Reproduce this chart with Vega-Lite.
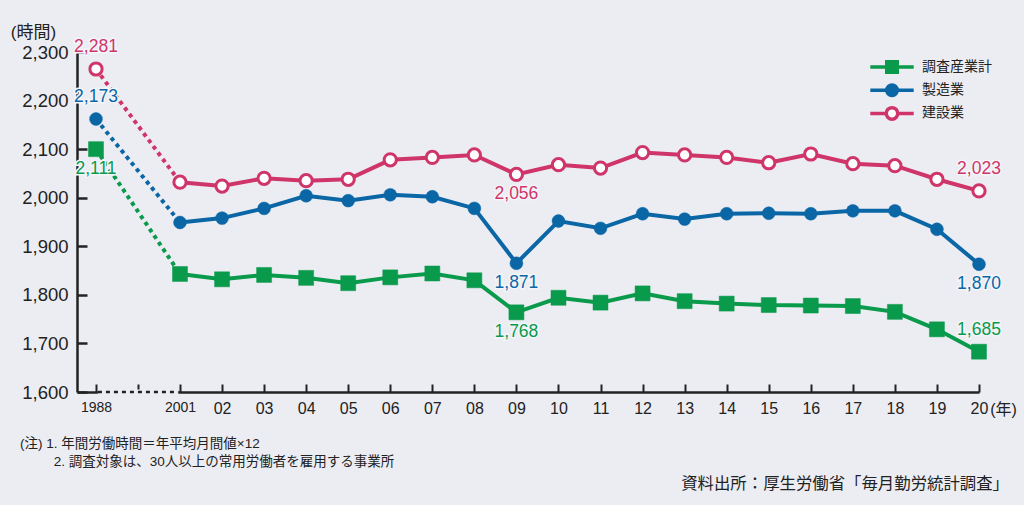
{
  "$schema": "https://vega.github.io/schema/vega-lite/v6.json",
  "width": 903,
  "height": 340,
  "autosize": {"type": "none"},
  "padding": {"left": 77, "top": 52, "right": 44, "bottom": 113},
  "background": "#ecedf3",
  "config": {
    "view": {"stroke": null},
    "font": "Liberation Sans, Noto Sans CJK JP",
    "text": {"font": "Liberation Sans, Noto Sans CJK JP"},
    "legend": {"orient": "none", "legendX": 806, "legendY": 6, "padding": 0, "labelFontSize": 14, "labelColor": "#222222", "labelFont": "Liberation Sans, Noto Sans CJK JP", "rowPadding": -2.8, "symbolSize": 196, "symbolStrokeWidth": 3.5, "labelOffset": 21}
  },
  "title": {
    "text": ["(注) 1. 年間労働時間＝年平均月間値×12", "\u200b\u00a0\u00a0\u00a0\u00a0\u00a0\u00a0\u00a0\u00a0\u00a02. 調査対象は、30人以上の常用労働者を雇用する事業所"],
    "orient": "bottom",
    "anchor": "start",
    "frame": "group",
    "dx": -57,
    "offset": -56,
    "fontSize": 13.5,
    "fontWeight": "normal",
    "lineHeight": 18.5,
    "color": "#222222",
    "font": "Liberation Sans, Noto Sans CJK JP"
  },
  "data": {"values": [
    {"year": 1988, "series": "調査産業計", "hours": 2100, "label": "2,111", "side": "below"},
    {"year": 1988, "series": "製造業", "hours": 2162, "label": "2,173", "side": "above"},
    {"year": 1988, "series": "建設業", "hours": 2265, "label": "2,281", "side": "above"},
    {"year": 2001, "series": "調査産業計", "hours": 1843},
    {"year": 2001, "series": "製造業", "hours": 1949},
    {"year": 2001, "series": "建設業", "hours": 2032},
    {"year": 2002, "series": "調査産業計", "hours": 1832},
    {"year": 2002, "series": "製造業", "hours": 1958},
    {"year": 2002, "series": "建設業", "hours": 2024},
    {"year": 2003, "series": "調査産業計", "hours": 1841},
    {"year": 2003, "series": "製造業", "hours": 1978},
    {"year": 2003, "series": "建設業", "hours": 2040},
    {"year": 2004, "series": "調査産業計", "hours": 1835},
    {"year": 2004, "series": "製造業", "hours": 2004},
    {"year": 2004, "series": "建設業", "hours": 2035},
    {"year": 2005, "series": "調査産業計", "hours": 1824},
    {"year": 2005, "series": "製造業", "hours": 1994},
    {"year": 2005, "series": "建設業", "hours": 2038},
    {"year": 2006, "series": "調査産業計", "hours": 1836},
    {"year": 2006, "series": "製造業", "hours": 2006},
    {"year": 2006, "series": "建設業", "hours": 2078},
    {"year": 2007, "series": "調査産業計", "hours": 1844},
    {"year": 2007, "series": "製造業", "hours": 2002},
    {"year": 2007, "series": "建設業", "hours": 2083},
    {"year": 2008, "series": "調査産業計", "hours": 1830},
    {"year": 2008, "series": "製造業", "hours": 1978},
    {"year": 2008, "series": "建設業", "hours": 2088},
    {"year": 2009, "series": "調査産業計", "hours": 1764, "label": "1,768", "side": "below"},
    {"year": 2009, "series": "製造業", "hours": 1865, "label": "1,871", "side": "below"},
    {"year": 2009, "series": "建設業", "hours": 2048, "label": "2,056", "side": "below"},
    {"year": 2010, "series": "調査産業計", "hours": 1794},
    {"year": 2010, "series": "製造業", "hours": 1952},
    {"year": 2010, "series": "建設業", "hours": 2068},
    {"year": 2011, "series": "調査産業計", "hours": 1784},
    {"year": 2011, "series": "製造業", "hours": 1937},
    {"year": 2011, "series": "建設業", "hours": 2061},
    {"year": 2012, "series": "調査産業計", "hours": 1803},
    {"year": 2012, "series": "製造業", "hours": 1967},
    {"year": 2012, "series": "建設業", "hours": 2093},
    {"year": 2013, "series": "調査産業計", "hours": 1787},
    {"year": 2013, "series": "製造業", "hours": 1956},
    {"year": 2013, "series": "建設業", "hours": 2088},
    {"year": 2014, "series": "調査産業計", "hours": 1782},
    {"year": 2014, "series": "製造業", "hours": 1967},
    {"year": 2014, "series": "建設業", "hours": 2083},
    {"year": 2015, "series": "調査産業計", "hours": 1779},
    {"year": 2015, "series": "製造業", "hours": 1968},
    {"year": 2015, "series": "建設業", "hours": 2072},
    {"year": 2016, "series": "調査産業計", "hours": 1778},
    {"year": 2016, "series": "製造業", "hours": 1967},
    {"year": 2016, "series": "建設業", "hours": 2090},
    {"year": 2017, "series": "調査産業計", "hours": 1777},
    {"year": 2017, "series": "製造業", "hours": 1973},
    {"year": 2017, "series": "建設業", "hours": 2070},
    {"year": 2018, "series": "調査産業計", "hours": 1765},
    {"year": 2018, "series": "製造業", "hours": 1973},
    {"year": 2018, "series": "建設業", "hours": 2066},
    {"year": 2019, "series": "調査産業計", "hours": 1729},
    {"year": 2019, "series": "製造業", "hours": 1935},
    {"year": 2019, "series": "建設業", "hours": 2038},
    {"year": 2020, "series": "調査産業計", "hours": 1683, "label": "1,685", "side": "above"},
    {"year": 2020, "series": "製造業", "hours": 1863, "label": "1,870", "side": "below"},
    {"year": 2020, "series": "建設業", "hours": 2014, "label": "2,023", "side": "above"}
  ]},
  "encoding": {
    "x": {
      "field": "year",
      "type": "quantitative",
      "scale": {"type": "linear", "domain": [1987, 1988, 2001, 2020], "range": [0, 19, 103, 902], "nice": false, "zero": false},
      "axis": {
        "values": [1988, 1994.5, 2001, 2002, 2003, 2004, 2005, 2006, 2007, 2008, 2009, 2010, 2011, 2012, 2013, 2014, 2015, 2016, 2017, 2018, 2019, 2020],
        "labelExpr": "datum.value == 1988 || datum.value == 2001 ? '' + datum.value : (datum.value > 2001 ? substring('' + datum.value, 2, 4) : '')",
        "labelFontSize": {"condition": {"test": "datum.value == 1988 || datum.value == 2001", "value": 14}, "value": 16},
        "labelFlush": false,
        "labelOverlap": false,
        "labelBound": false,
        "labelColor": "#222222",
        "labelPadding": 16,
        "labelFont": "Liberation Sans, Noto Sans CJK JP",
        "tickSize": -8,
        "tickWidth": 2,
        "tickColor": "#222222",
        "domainColor": "#222222",
        "domainWidth": 2.5,
        "grid": false,
        "title": "(年)",
        "titleFont": "Liberation Sans, Noto Sans CJK JP",
        "titleFontSize": 16,
        "titleFontWeight": "normal",
        "titleColor": "#222222",
        "titleX": 926,
        "titleY": 17,
        "titleAlign": "center",
        "titleBaseline": "middle"
      }
    },
    "y": {
      "field": "hours",
      "type": "quantitative",
      "scale": {"domain": [1600, 2300], "nice": false, "zero": false},
      "axis": {
        "values": [1600, 1700, 1800, 1900, 2000, 2100, 2200, 2300],
        "format": ",d",
        "labelFontSize": 18.5,
        "labelColor": "#222222",
        "labelPadding": 19,
        "labelFont": "Liberation Sans, Noto Sans CJK JP",
        "tickSize": -10,
        "tickWidth": 2.5,
        "tickColor": "#222222",
        "domainColor": "#222222",
        "domainWidth": 2.5,
        "grid": false,
        "title": "(時間)",
        "titleFont": "Liberation Sans, Noto Sans CJK JP",
        "titleFontSize": 17,
        "titleFontWeight": "normal",
        "titleColor": "#222222",
        "titleAngle": 0,
        "titleX": -44,
        "titleY": -20,
        "titleAlign": "center",
        "titleBaseline": "middle"
      }
    }
  },
  "layer": [
    {
      "data": {"values": [{"from": 1988.3, "to": 2000.75, "base": 1600}]},
      "mark": {"type": "rule", "stroke": "#ecedf3", "strokeWidth": 5},
      "encoding": {"x": {"field": "from", "type": "quantitative"}, "x2": {"field": "to"}, "y": {"field": "base", "type": "quantitative"}}
    },
    {
      "data": {"values": [{"from": 1988.3, "to": 2000.75, "base": 1600}]},
      "mark": {"type": "rule", "stroke": "#222222", "strokeWidth": 2.5, "strokeDash": [4, 4]},
      "encoding": {"x": {"field": "from", "type": "quantitative"}, "x2": {"field": "to"}, "y": {"field": "base", "type": "quantitative"}}
    },
    {
      "transform": [{"filter": "datum.year <= 2001"}],
      "mark": {"type": "line", "strokeWidth": 4, "strokeDash": [4, 4], "strokeCap": "butt"},
      "encoding": {
        "color": {"field": "series", "type": "nominal", "scale": {"domain": ["建設業", "製造業", "調査産業計"], "range": ["#cf3569", "#0b66a6", "#0a9a4c"]}, "legend": null}
      }
    },
    {
      "transform": [{"filter": "datum.year >= 2001"}],
      "mark": {"type": "line", "strokeWidth": 4},
      "encoding": {
        "color": {"field": "series", "type": "nominal", "legend": null}
      }
    },
    {
      "transform": [{"filter": "datum.series == '調査産業計'"}],
      "mark": {"type": "point", "shape": "square", "size": 225, "strokeWidth": 0.5, "opacity": 1},
      "encoding": {
        "stroke": {"field": "series", "type": "nominal", "title": null, "scale": {"domain": ["調査産業計", "製造業", "建設業"], "range": ["#0a9a4c", "#0b66a6", "#cf3569"]}},
        "fill": {"field": "series", "type": "nominal", "title": null, "scale": {"domain": ["調査産業計", "製造業", "建設業"], "range": ["#0a9a4c", "#0b66a6", "#ffffff"]}}
      }
    },
    {
      "transform": [{"filter": "datum.series == '製造業'"}],
      "mark": {"type": "point", "shape": "circle", "size": 165, "strokeWidth": 0.5, "opacity": 1},
      "encoding": {
        "stroke": {"field": "series", "type": "nominal", "title": null},
        "fill": {"field": "series", "type": "nominal", "title": null}
      }
    },
    {
      "transform": [{"filter": "datum.series == '建設業'"}],
      "mark": {"type": "point", "shape": "circle", "size": 150, "strokeWidth": 3, "opacity": 1},
      "encoding": {
        "stroke": {"field": "series", "type": "nominal", "title": null},
        "fill": {"field": "series", "type": "nominal", "title": null}
      }
    },
    {
      "transform": [{"filter": "false"}],
      "mark": {"type": "point", "strokeWidth": 3.5, "opacity": 1},
      "encoding": {
        "stroke": {"field": "series", "type": "nominal", "title": null},
        "fill": {"field": "series", "type": "nominal", "title": null},
        "shape": {"field": "series", "type": "nominal", "title": null, "scale": {"domain": ["調査産業計", "製造業", "建設業"], "range": ["M-3.1,0H-0.75M0.75,0H3.1M-0.75,-0.75H0.75V0.75H-0.75Z", "M-3.1,0H-0.75M0.75,0H3.1M-0.75,0A0.75,0.75 0 1,0 0.75,0A0.75,0.75 0 1,0 -0.75,0Z", "M-3.1,0H-0.82M0.82,0H3.1M-0.82,0A0.82,0.82 0 1,0 0.82,0A0.82,0.82 0 1,0 -0.82,0Z"]}}
      }
    },
    {
      "transform": [{"filter": "datum.side == 'above'"}],
      "mark": {"type": "text", "dy": -22, "fontSize": 17.5, "fill": "#f3f5f9", "stroke": "#f3f5f9", "strokeWidth": 3, "align": "center", "baseline": "middle"},
      "encoding": {"text": {"field": "label"}}
    },
    {
      "transform": [{"filter": "datum.side == 'below'"}],
      "mark": {"type": "text", "dy": 20, "fontSize": 17.5, "fill": "#f3f5f9", "stroke": "#f3f5f9", "strokeWidth": 3, "align": "center", "baseline": "middle"},
      "encoding": {"text": {"field": "label"}}
    },
    {
      "transform": [{"filter": "datum.side == 'above'"}],
      "mark": {"type": "text", "dy": -22, "fontSize": 17.5, "align": "center", "baseline": "middle"},
      "encoding": {"text": {"field": "label"}, "color": {"field": "series", "type": "nominal", "legend": null}}
    },
    {
      "transform": [{"filter": "datum.side == 'below'"}],
      "mark": {"type": "text", "dy": 20, "fontSize": 17.5, "align": "center", "baseline": "middle"},
      "encoding": {"text": {"field": "label"}, "color": {"field": "series", "type": "nominal", "legend": null}}
    },
    {
      "data": {"values": [{"source": "資料出所：厚生労働省「毎月勤労統計調査」", "px": 2020, "py": 1410}]},
      "mark": {"type": "text", "align": "right", "baseline": "middle", "dx": 30, "fontSize": 16.4, "color": "#222222"},
      "encoding": {"x": {"field": "px", "type": "quantitative"}, "y": {"field": "py", "type": "quantitative"}, "text": {"field": "source"}}
    }
  ]
}
